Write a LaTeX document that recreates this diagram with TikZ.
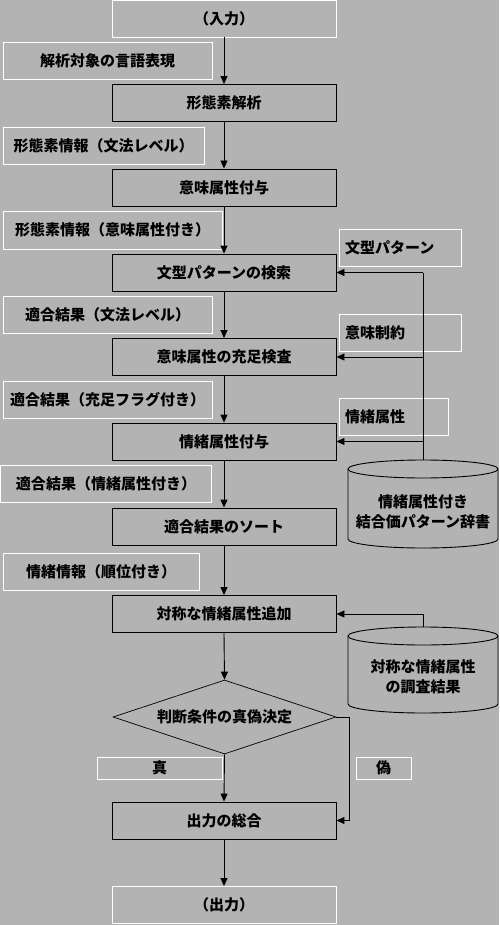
\documentclass[tikz,border=0pt]{standalone}
\usepackage{fontspec}
\setmainfont{Noto Sans CJK JP}
\usetikzlibrary{arrows.meta,shapes.geometric}
\definecolor{bg}{RGB}{179,179,179}
\tikzset{
  base/.style={font=\fontsize{15}{18}\selectfont\bfseries, inner sep=0pt, line width=0.9pt},
  proc/.style={base, draw=black, minimum width=224pt, minimum height=37pt},
  iobox/.style={base, draw=white, minimum width=224pt, minimum height=37pt},
  lab/.style={base, draw=white, minimum height=37pt},
  rlab/.style={base, draw=white, minimum height=37pt, align=left},
  decide/.style={base, draw=black, diamond, aspect=3, minimum width=223pt, minimum height=74pt, line width=0.7pt},
  cyl/.style={draw=black, line width=0.9pt},
  flow/.style={draw=black, line width=0.9pt, -{Triangle[length=8pt,width=7pt]}},
  line/.style={draw=black, line width=0.9pt}
}
\begin{document}
\begin{tikzpicture}[x=1pt,y=-1pt]
\fill[bg] (0,0) rectangle (499,925);
\useasboundingbox (0,0) rectangle (499,925);

% main column
\node[iobox] (in) at (224,18.5) {（入力）};
\node[proc] (p1) at (224,103) {形態素解析};
\node[proc] (p2) at (224,187.5) {意味属性付与};
\node[proc] (p3) at (224,272.5) {文型パターンの検索};
\node[proc] (p4) at (224,357) {意味属性の充足検査};
\node[proc] (p5) at (224,441.5) {情緒属性付与};
\node[proc] (p6) at (224,526.5) {適合結果のソート};
\node[proc] (p7) at (224,614) {対称な情緒属性追加};
\node[decide] (d) at (224.5,717) {判断条件の真偽決定};
\node[proc] (p8) at (224,820.5) {出力の総合};
\node[iobox] (out) at (224,905) {（出力）};

% left labels
\node[lab, minimum width=209pt] (l1) at (107.5,60.5) {解析対象の言語表現};
\node[lab, minimum width=201pt] (l2) at (103.5,145.5) {形態素情報（文法レベル）};
\node[lab, minimum width=219pt, minimum height=38pt] (l3) at (112.5,230) {形態素情報（意味属性付き）};
\node[lab, minimum width=209pt] (l4) at (107.5,314.5) {適合結果（文法レベル）};
\node[lab, minimum width=209pt] (l5) at (107.5,400) {適合結果（充足フラグ付き）};
\node[lab, minimum width=211pt] (l6) at (106,484) {適合結果（情緒属性付き）};
\node[lab, minimum width=196pt] (l7) at (101,571.5) {情緒情報（順位付き）};
\node[lab, minimum width=125pt, minimum height=22pt] (lt) at (159.5,768) {真};
\node[lab, minimum width=55pt, minimum height=22pt] (lf) at (383.5,768) {偽};

% right labels
\node[rlab, text width=110pt, inner xsep=6pt] (r1) at (400,247.5) {文型パターン};
\node[rlab, text width=110pt, inner xsep=6pt] (r2) at (400,332.5) {意味制約};
\node[rlab, text width=97pt, inner xsep=6pt] (r3) at (393.5,417) {情緒属性};

% database 1
\draw[cyl] (423,469) ellipse[x radius=75, y radius=9];
\draw[cyl] (348,469) -- (348,539) arc[start angle=180, end angle=0, x radius=75, y radius=9] -- (498,469);
\coordinate (db1) at (423,460);
\node[base, align=center] (db1t) at (423,512) {情緒属性付き\\[2pt]結合価パターン辞書};

% database 2
\draw[cyl] (423,636) ellipse[x radius=75, y radius=9];
\draw[cyl] (348,636) -- (348,704) arc[start angle=180, end angle=0, x radius=75, y radius=9] -- (498,636);
\coordinate (db2) at (423,627);
\node[base, align=center] (db2t) at (423,677) {対称な情緒属性\\[2pt]の調査結果};

% main flow
\draw[flow] (in.south) -- (p1.north);
\draw[flow] (p1.south) -- (p2.north);
\draw[flow] (p2.south) -- (p3.north);
\draw[flow] (p3.south) -- (p4.north);
\draw[flow] (p4.south) -- (p5.north);
\draw[flow] (p5.south) -- (p6.north);
\draw[flow] (p6.south) -- (p7.north);
\draw[flow] (p7.south) -- (d.north);
\draw[flow] (d.south) -- (p8.north);
\draw[flow] (p8.south) -- (out.north);

% feedback from dictionary
\coordinate (fbtop) at (423,272.5);
\draw[line] (db1) -- (fbtop);
\draw[flow] (fbtop) -- (p3.east);
\draw[flow] (db1 |- p4.east) -- (p4.east);
\draw[flow] (db1 |- p5.east) -- (p5.east);
\draw[flow] (db2) |- (p7.east);

% false branch
\coordinate (fr) at (349,717);
\draw[flow] (d.east) -- (fr) |- (p8.east);
\end{tikzpicture}
\end{document}
